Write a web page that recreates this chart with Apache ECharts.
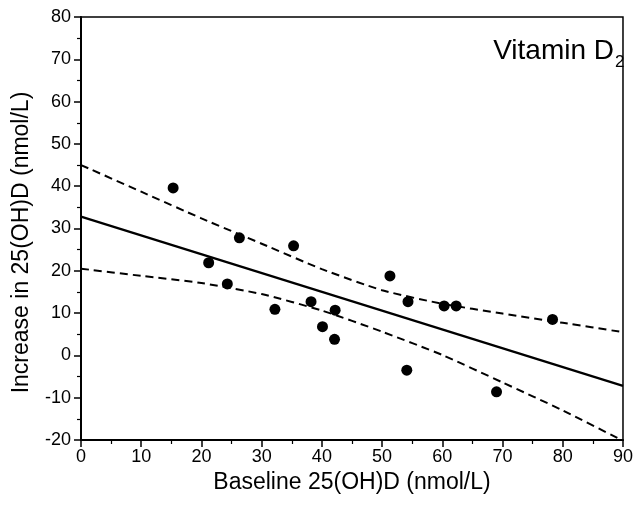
<!DOCTYPE html>
<html>
<head>
<meta charset="utf-8">
<script src="https://cdn.jsdelivr.net/npm/echarts@6/dist/echarts.min.js"></script>
<style>html,body{margin:0;padding:0;background:#fff}#c{width:636px;height:508px}</style>
</head>
<body>
<div id="c"></div>
<script>
// Data
var baseline = [15.3, 21.2, 24.3, 26.3, 32.2, 35.3, 38.2, 40.1, 42.1, 42.2, 51.3, 54.1, 54.3, 60.3, 62.3, 69.0, 78.3];
var increase = [39.6, 21.9, 16.9, 27.8, 10.9, 25.9, 12.7, 6.8, 3.8, 10.7, 18.8, -3.5, 12.7, 11.7, 11.7, -8.6, 8.5];
var fitX = [0, 90];
var fitY = [32.8, -7.2];
var bandX = [0, 10, 20, 30, 40, 50, 60, 70, 80, 90];
var upperBand = [45.0, 38.7, 32.4, 26.4, 20.4, 15.4, 12.2, 9.9, 7.7, 5.5];
var lowerBand = [20.5, 18.8, 17.1, 14.5, 10.6, 5.6, 0.1, -6.4, -13.0, -20.2];
var xTitle = 'Baseline 25(OH)D (nmol/L)';
var yTitle = 'Increase in 25(OH)D (nmol/L)';
var panelLabel = 'Vitamin D';
var panelSub = '2';

function pairs(xs, ys) { return xs.map(function (x, i) { return [x, ys[i]]; }); }

var font = 'Liberation Sans, Arial, Helvetica, sans-serif';
var chart = echarts.init(document.getElementById('c'), null, {renderer: 'canvas'});
chart.setOption({
  animation: false,
  backgroundColor: '#fff',
  grid: {left: 81, right: 9, top: 17, bottom: 68, show: true, borderColor: '#000', borderWidth: 1.5},
  xAxis: {
    type: 'value', min: 0, max: 90, interval: 10,
    name: xTitle, nameLocation: 'middle', nameGap: 28,
    nameTextStyle: {fontFamily: font, fontSize: 23, color: '#000'},
    axisLine: {onZero: false, lineStyle: {color: '#000', width: 2}},
    axisTick: {length: 7, lineStyle: {color: '#000', width: 1.5}},
    minorTick: {show: true, splitNumber: 2, length: 4, lineStyle: {color: '#000', width: 1.2}},
    axisLabel: {fontFamily: font, fontSize: 18, color: '#000', margin: 8},
    splitLine: {show: false}
  },
  yAxis: {
    type: 'value', min: -20, max: 80, interval: 10,
    name: yTitle, nameLocation: 'middle', nameGap: 48,
    nameTextStyle: {fontFamily: font, fontSize: 23, color: '#000', padding: [0, 28, 0, 0]},
    axisLine: {onZero: false, lineStyle: {color: '#000', width: 2}},
    axisTick: {length: 7, lineStyle: {color: '#000', width: 1.5}},
    minorTick: {show: true, splitNumber: 2, length: 4, lineStyle: {color: '#000', width: 1.2}},
    axisLabel: {fontFamily: font, fontSize: 18, color: '#000', margin: 10},
    splitLine: {show: false}
  },
  graphic: [
    {type: 'text', right: 22, top: 37, style: {text: panelLabel, font: '28px ' + font, fill: '#000'}},
    {type: 'text', left: 615, top: 54, style: {text: panelSub, font: '17px ' + font, fill: '#000'}}
  ],
  series: [
    {type: 'line', data: pairs(bandX, upperBand), smooth: 0.2, symbol: 'none',
     lineStyle: {color: '#000', width: 2, type: [8, 5]}, z: 2},
    {type: 'line', data: pairs(bandX, lowerBand), smooth: 0.2, symbol: 'none',
     lineStyle: {color: '#000', width: 2, type: [8, 5]}, z: 2},
    {type: 'line', data: pairs(fitX, fitY), symbol: 'none',
     lineStyle: {color: '#000', width: 2.2}, z: 3},
    {type: 'scatter', data: pairs(baseline, increase), symbol: 'circle', symbolSize: 11,
     itemStyle: {color: '#000', opacity: 1}, z: 5}
  ]
});
</script>
</body>
</html>
